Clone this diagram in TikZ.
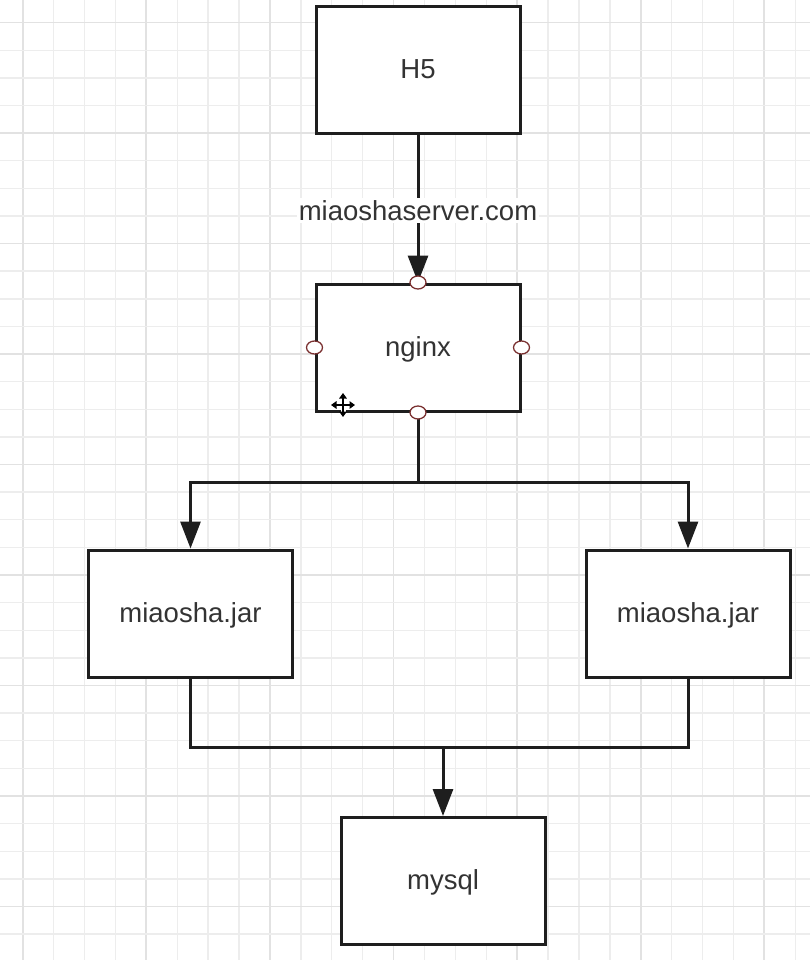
\documentclass[tikz,border=0pt]{standalone}
\usepackage{fontspec}
\setmainfont{Liberation Sans}
\usetikzlibrary{arrows.meta,shapes.geometric}
\definecolor{ink}{HTML}{1E1E1E}
\definecolor{txt}{HTML}{333333}
\definecolor{gminor}{HTML}{EDEDED}
\definecolor{gmajor}{HTML}{E2E2E2}
\definecolor{port}{HTML}{7A3030}
\tikzset{
  box/.style={draw=ink, line width=3pt, fill=white, minimum width=204pt, minimum height=127pt, inner sep=0pt, text=txt, text height=22pt, text depth=5pt, font=\fontsize{27.5}{32}\selectfont},
  conn/.style={draw=ink, line width=3pt},
  arr/.style={conn, -{Triangle[length=27pt,width=20pt]}},
  portc/.style={draw=port, fill=white, line width=1.3pt, ellipse, minimum width=16pt, minimum height=13pt, inner sep=0pt},
  lbl/.style={fill=white, text=txt, inner sep=2pt, font=\fontsize{27.5}{32}\selectfont},
}
\begin{document}
\begin{tikzpicture}[x=1pt,y=-1pt]
\useasboundingbox (0,0) rectangle (810,960);
\fill[white] (0,0) rectangle (810,960);
% grid
\foreach \k in {0,...,25} {
  \pgfmathsetmacro{\xx}{22.7+30.9*\k}
  \pgfmathtruncatemacro{\mm}{mod(\k,4)}
  \ifnum\mm=0
    \draw[gmajor, line width=1.8pt] (\xx,0) -- (\xx,960);
  \else
    \draw[gminor, line width=1.4pt] (\xx,0) -- (\xx,960);
  \fi
}
\foreach \k in {0,...,34} {
  \pgfmathsetmacro{\yy}{22.6+27.62*\k}
  \pgfmathtruncatemacro{\mm}{mod(\k,4)}
  \ifnum\mm=0
    \draw[gmajor, line width=1.8pt] (0,\yy) -- (810,\yy);
  \else
    \draw[gminor, line width=1.4pt] (0,\yy) -- (810,\yy);
  \fi
}
% nodes
\node[box] (h5) at (418,70.5) {H5};
\node[box] (nginx) at (418,347.5) {nginx};
\node[box] (jarL) at (190.5,613.5) {miaosha.jar};
\node[box] (jarR) at (688,613.5) {miaosha.jar};
\node[box] (mysql) at (443,881) {mysql};
% connectors
\draw[arr] (h5.south) -- node[lbl, pos=0.51] (dom) {miaoshaserver.com} (nginx.north);
\coordinate (split) at (418,482);
\draw[conn] (nginx.south) -- (split);
\draw[arr] (split) -| (jarL.north);
\draw[arr] (split) -| (jarR.north);
\coordinate (merge) at (443,747);
\draw[conn] (jarL.south) |- (merge);
\draw[conn] (jarR.south) |- (merge);
\draw[arr] (merge) -- (mysql.north);
% connection points on nginx
\node[portc] (pt) at (nginx.north) {};
\node[portc] (pl) at (nginx.west) {};
\node[portc] (pr) at (nginx.east) {};
\node[portc] (pb) at (nginx.south) {};
% move cursor
\coordinate (cur) at (343,405);
\foreach \a in {0,90,180,270} {
  \draw[white, line width=5pt, line cap=round] (cur) -- ++(\a:12);
}
\foreach \a in {0,90,180,270} {
  \draw[black, line width=2.2pt, -{Triangle[length=5.5pt,width=7.5pt]}] (cur) -- ++(\a:12);
}
\end{tikzpicture}
\end{document}
